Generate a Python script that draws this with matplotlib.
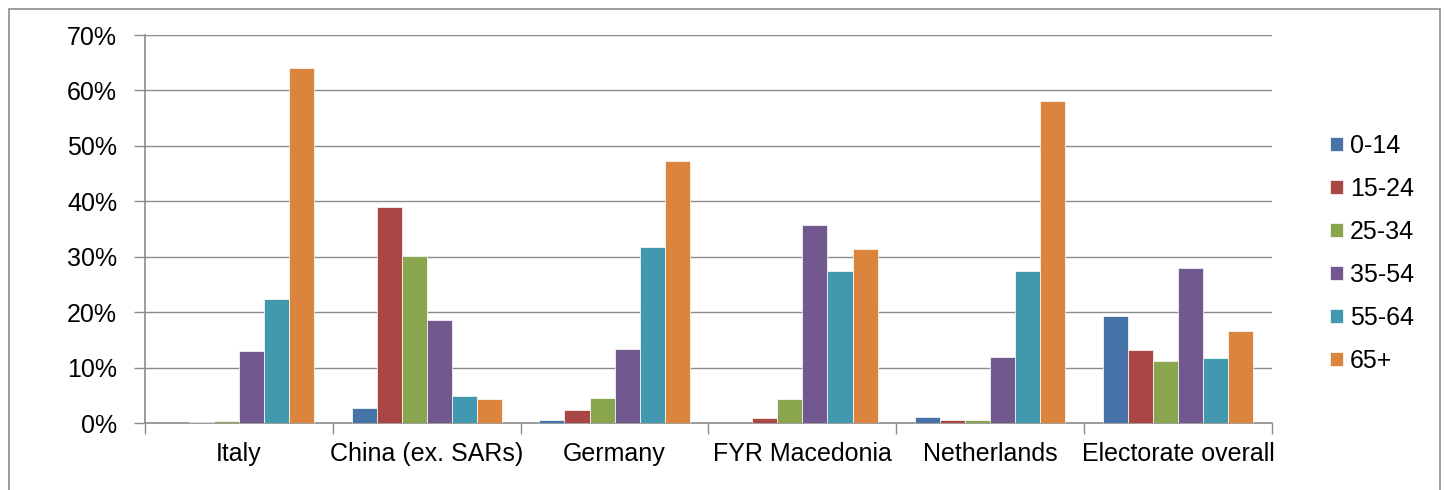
import numpy as np
import matplotlib
matplotlib.use("Agg")
import matplotlib.pyplot as plt
from matplotlib.patches import Rectangle

# 各国选民年龄结构 (%)
countries = ["Italy", "China (ex. SARs)", "Germany", "FYR Macedonia",
             "Netherlands", "Electorate overall"]
age_groups = ["0-14", "15-24", "25-34", "35-54", "55-64", "65+"]

age_0_14 = [0.0, 2.7, 0.6, 0.0, 1.0, 19.3]
age_15_24 = [0.2, 39.0, 2.3, 0.9, 0.6, 13.1]
age_25_34 = [0.4, 30.1, 4.5, 4.4, 0.6, 11.1]
age_35_54 = [13.0, 18.6, 13.3, 35.8, 11.9, 28.0]
age_55_64 = [22.3, 4.8, 31.8, 27.4, 27.5, 11.8]
age_65_plus = [64.0, 4.4, 47.3, 31.4, 58.1, 16.6]

series = [age_0_14, age_15_24, age_25_34, age_35_54, age_55_64, age_65_plus]
colors = ["#4572A7", "#AA4643", "#89A54E", "#71588F", "#4198AF", "#DB843D"]

plt.rcParams["font.family"] = ["Liberation Sans", "DejaVu Sans"]
FS = 18

fig = plt.figure(figsize=(14.45, 4.9), dpi=100)
ax = fig.add_axes([145 / 1445, 1 - 423 / 490, (1272 - 145) / 1445, (423 - 35) / 490])

# 外框
fig.patches.append(Rectangle((9 / 1445, -0.1), (1440 - 9) / 1445, 1.1 - 9 / 490,
                             transform=fig.transFigure, fill=False,
                             edgecolor="#8c8c8c", lw=1.2))

x = np.arange(len(countries))
w = 0.8 / len(series)
for i, (vals, c, lab) in enumerate(zip(series, colors, age_groups)):
    ax.bar(x - 0.4 + w * (i + 0.5), np.array(vals) / 100, w, color=c,
           edgecolor="white", linewidth=0.5, label=lab, zorder=3)

ax.set_xlim(-0.5, len(countries) - 0.5)
ax.set_ylim(0, 0.70)
ax.set_yticks(np.arange(0, 0.71, 0.1))
ax.set_yticklabels([f"{int(round(v * 100))}%" for v in np.arange(0, 0.71, 0.1)])
ax.set_xticks(x)
ax.set_xticklabels(countries)
ax.set_xticks(np.arange(-0.5, len(countries)), minor=True)

ax.grid(axis="y", color="#8c8c8c", lw=1.0, zorder=0)
for s in ["top", "right"]:
    ax.spines[s].set_visible(False)
for s in ["left", "bottom"]:
    ax.spines[s].set_color("#8c8c8c")
    ax.spines[s].set_linewidth(1.2)

ax.tick_params(axis="y", length=8, width=1.0, color="#8c8c8c", pad=12, labelsize=FS)
ax.tick_params(axis="x", which="major", length=0, pad=14, labelsize=FS)
ax.tick_params(axis="x", which="minor", length=8, width=1.0, color="#8c8c8c")

fig.legend(loc="center left", bbox_to_anchor=(1320 / 1445, 1 - 253 / 490),
           frameon=False, fontsize=FS, handlelength=0.5, handleheight=0.5,
           handletextpad=0.3, labelspacing=0.76, borderaxespad=0)

fig.savefig("out.png", dpi=100)
